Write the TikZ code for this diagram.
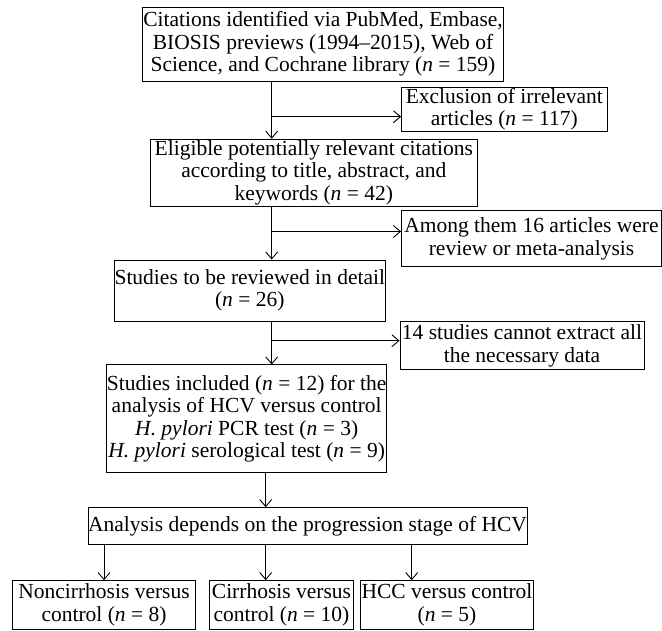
\documentclass[tikz,border=0pt]{standalone}
\usepackage{fontspec}
\setmainfont{Liberation Serif}
\usepackage{tikz}
\usetikzlibrary{
	positioning,    % posizionamento dei nodi
	arrows.meta     % punte di freccia
}

\tikzset{
	box/.style={draw, line width=0.9pt, align=center, inner sep=0pt,
		font=\fontsize{21.5}{22.5}\selectfont},
	flow/.style={line width=0.9pt, -{Straight Barb[length=7pt,width=12pt]}}
}

\begin{document}
\begin{tikzpicture}[x=1pt, y=-1pt]
		\useasboundingbox (0,0) rectangle (662,631);
		
		% --- Colonna principale ---
		\node[box, minimum width=360.7pt, minimum height=73.7pt] (cit) at (323,44.2)
		{Citations identified via PubMed, Embase,\\ BIOSIS previews (1994–2015), Web of\\ Science, and Cochrane library (\textit{n} = 159)};
		\node[box, minimum width=327pt, minimum height=66.8pt] (elig) at (313.8,172.6)
		{Eligible potentially relevant citations\\ according to title, abstract, and\\ keywords (\textit{n} = 42)};
		\node[box, minimum width=271.7pt, minimum height=61pt] (rev) at (249.8,290.5)
		{Studies to be reviewed in detail\\ (\textit{n} = 26)};
		\node[box, minimum width=278pt, minimum height=107.7pt] (incl) at (246.7,418.8)
		{Studies included (\textit{n} = 12) for the\\ analysis of HCV versus control\\ \textit{H. pylori} PCR test (\textit{n} = 3)\\ \textit{H. pylori} serological test (\textit{n} = 9)};
		\node[box, minimum width=437pt, minimum height=36.3pt] (ana) at (307.5,525.8)
		{Analysis depends on the progression stage of HCV};
		
		% --- Esclusioni ---
		\node[box, minimum width=205.5pt, minimum height=44pt] (excl) at (504.3,109)
		{Exclusion of irrelevant\\ articles (\textit{n} = 117)};
		\node[box, minimum width=260pt, minimum height=55.7pt] (among) at (531.5,238.8)
		{Among them 16 articles were\\ review or meta-analysis};
		\node[box, minimum width=244pt, minimum height=48.3pt] (nodata) at (522,345.8)
		{14 studies cannot extract all\\ the necessary data};
		
		% --- Sottogruppi ---
		\node[box, minimum width=183.4pt, minimum height=48.3pt] (non) at (104,604.8)
		{Noncirrhosis versus\\ control (\textit{n} = 8)};
		\node[box, minimum width=143.6pt, minimum height=48.3pt] (cir) at (281.5,604.8)
		{Cirrhosis versus\\ control (\textit{n} = 10)};
		\node[box, minimum width=172.6pt, minimum height=48.3pt] (hcc) at (447,604.8)
		{HCC versus control\\ (\textit{n} = 5)};
		
		% --- Frecce ---
		\coordinate (s1) at (271.7,116.7);
		\coordinate (s2) at (271.7,231.5);
		\coordinate (s3) at (271.7,340.7);
		\coordinate (s4) at (265.7,0);
		\draw[flow] (cit.south -| s1) -- (elig.north -| s1);
		\draw[flow] (s1) -- (s1 -| excl.west);
		\draw[flow] (elig.south -| s2) -- (rev.north -| s2);
		\draw[flow] (s2) -- (s2 -| among.west);
		\draw[flow] (rev.south -| s3) -- (incl.north -| s3);
		\draw[flow] (s3) -- (s3 -| nodata.west);
		\draw[flow] (incl.south -| s4) -- (ana.north -| s4);
		
		% Frecce verso i sottogruppi
		\draw[flow] (ana.south -| non) -- (non.north);
		\draw[flow] (ana.south -| s4) -- (cir.north -| s4);
		\coordinate (s5) at (411.7,0);
		\draw[flow] (ana.south -| s5) -- (hcc.north -| s5);
	\end{tikzpicture}
\end{document}
